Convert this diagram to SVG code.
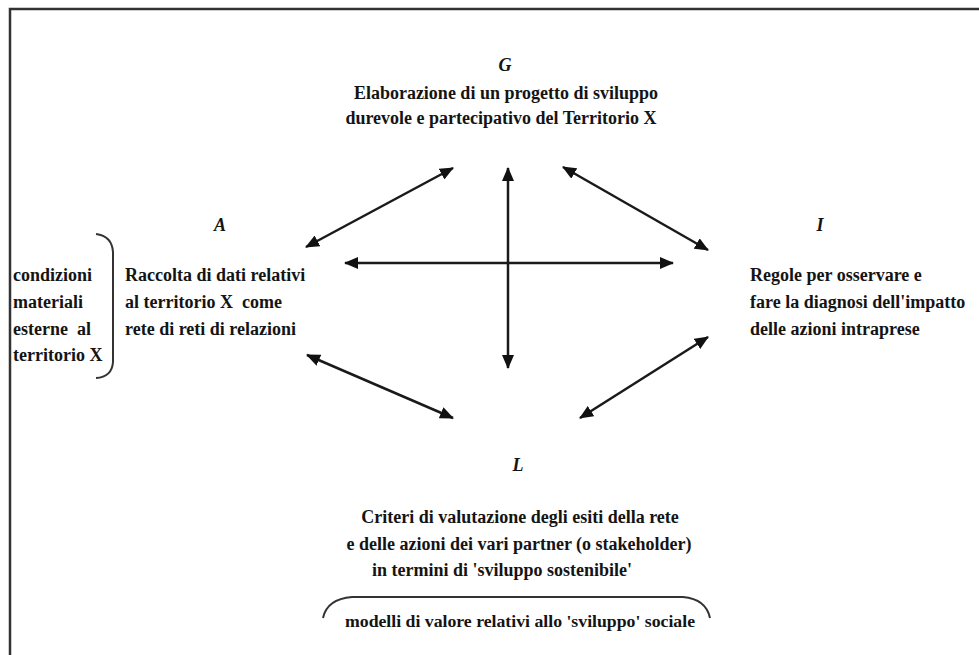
<svg xmlns="http://www.w3.org/2000/svg" width="979" height="655" viewBox="0 0 979 655">
<defs>
<style>
.t{font-family:"Liberation Serif","Times New Roman",serif;font-weight:bold;font-size:18px;fill:#141414}
.lab{font-family:"Liberation Serif","Times New Roman",serif;font-weight:bold;font-style:italic;font-size:18px;fill:#141414}
.c{text-anchor:middle}
.s{font-size:16px}
.con{stroke:#1a1a1a;stroke-width:2.5;fill:none;marker-start:url(#ah);marker-end:url(#ah)}
.br{stroke:#333;stroke-width:2;fill:none}
</style>
<marker id="ah" viewBox="0 0 14 12" refX="13" refY="6" markerWidth="14" markerHeight="12" markerUnits="userSpaceOnUse" orient="auto-start-reverse">
<path d="M0,0 L14,6 L0,12 Z" fill="#111"/>
</marker>
</defs>
<rect width="979" height="655" fill="#fff"/>
<path d="M10,655 V9 H979" fill="none" stroke="#333" stroke-width="2.5"/>

<g id="G">
<text class="lab c" x="505" y="71">G</text>
<text class="t c" x="506" y="99">Elaborazione di un progetto di sviluppo</text>
<text class="t c" x="501" y="124">durevole e partecipativo del Territorio X</text>
</g>

<g id="A">
<text class="lab c" x="220" y="231">A</text>
<text class="t" x="125" y="281">Raccolta di dati relativi</text>
<text class="t" x="125" y="308" xml:space="preserve">al territorio X  come</text>
<text class="t" x="125" y="335">rete di reti di relazioni</text>
</g>

<g id="cond">
<text class="t" x="13" y="281">condizioni</text>
<text class="t" x="13" y="308">materiali</text>
<text class="t" x="13" y="335" xml:space="preserve">esterne  al</text>
<text class="t" x="13" y="361">territorio X</text>
<path class="br" d="M96,234 Q112,236 113,252 V362 Q112,377 96,378"/>
</g>

<g id="I">
<text class="lab c" x="820" y="231">I</text>
<text class="t" x="750" y="281">Regole per osservare e</text>
<text class="t" x="750" y="308">fare la diagnosi dell'impatto</text>
<text class="t" x="750" y="335">delle azioni intraprese</text>
</g>

<g id="L">
<text class="lab c" x="518" y="471">L</text>
<text class="t c" x="520" y="523">Criteri di valutazione degli esiti della rete</text>
<text class="t c" x="519" y="550">e delle azioni dei vari partner (o stakeholder)</text>
<text class="t c" x="502" y="576">in termini di 'sviluppo sostenibile'</text>
</g>

<g id="models">
<path class="br" d="M323,618 Q327,599 352,597 H683 Q706,599 710,618"/>
<text class="t s" x="345" y="627" textLength="350" lengthAdjust="spacingAndGlyphs">modelli di valore relativi allo 'sviluppo' sociale</text>
</g>

<g id="connectors">
<line class="con" x1="306" y1="247" x2="453" y2="168"/>
<line class="con" x1="508" y1="168" x2="508" y2="368"/>
<line class="con" x1="345" y1="263" x2="673" y2="263"/>
<line class="con" x1="563" y1="167" x2="708" y2="250"/>
<line class="con" x1="307" y1="355" x2="453" y2="418"/>
<line class="con" x1="708" y1="337" x2="580" y2="418"/>
</g>
</svg>
